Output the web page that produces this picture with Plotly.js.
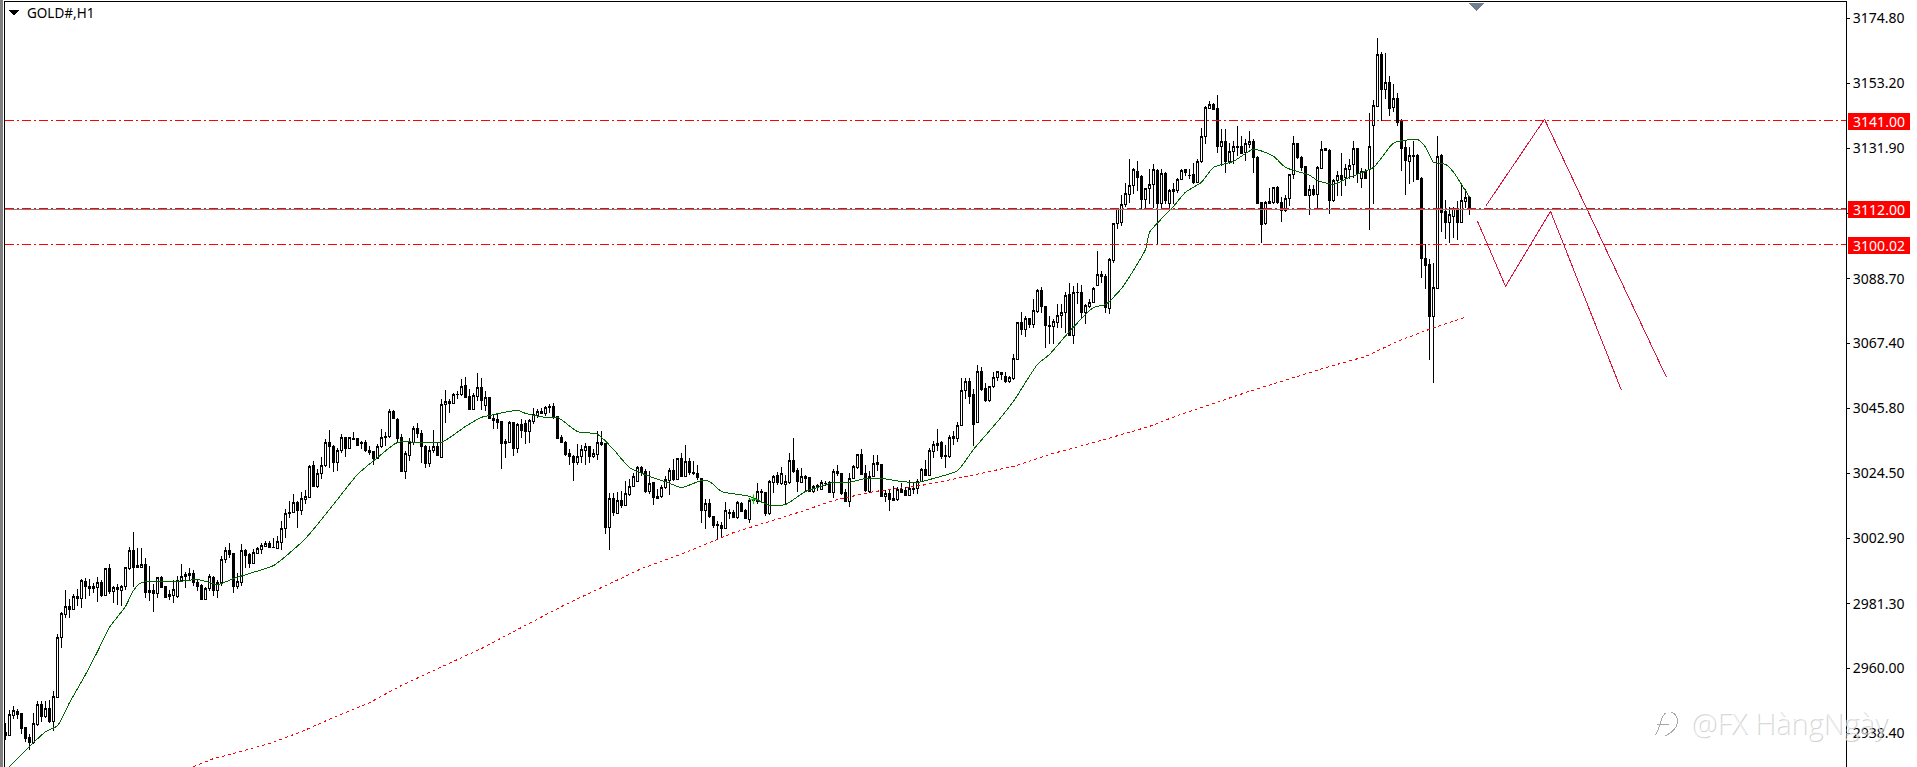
<!DOCTYPE html>
<html>
<head>
<meta charset="utf-8">
<script src="https://cdn.plot.ly/plotly-3.0.1.min.js"></script>
<style>
html,body{margin:0;padding:0;background:#fff}
#chart{width:1917px;height:767px}
/* the terminal draws without anti-aliasing */
#chart .shapelayer path, #chart .scatterlayer .js-line, #chart .boxlayer path, #chart .xlines-above, #chart .ylines-above {shape-rendering:crispEdges}
</style>
</head>
<body>
<div id="chart"></div>
<script>
const open = [
2938.8,2937.7,2944.5,2945.6,2945.0,2940.3,2937.1,2935.3,2941.5,2948.0,
2944.1,2946.6,2942.5,2950.3,2970.0,2977.9,2980.3,2979.4,2983.6,2983.1,
2988.5,2987.1,2986.9,2986.8,2988.2,2984.0,2993.0,2985.5,2986.6,2985.8,
2987.1,2993.0,2998.9,2994.0,2993.4,2994.3,2985.6,2985.6,2984.6,2990.0,
2987.1,2983.6,2984.1,2983.8,2989.0,2990.2,2991.3,2991.3,2988.2,2987.3,
2982.7,2986.2,2990.0,2985.8,2988.4,2995.8,2999.0,2997.9,2987.1,2988.4,
2998.9,2997.5,2994.7,2997.9,2999.2,3000.3,3001.2,3000.0,2999.7,3001.4,
3006.1,3011.0,3011.4,3014.7,3012.2,3015.9,3016.5,3026.9,3020.1,3024.2,
3027.0,3034.5,3033.4,3027.9,3031.9,3036.3,3032.6,3035.8,3035.8,3034.5,
3034.5,3031.8,3031.5,3029.3,3033.4,3036.4,3036.5,3044.9,3042.2,3036.2,
3025.1,3030.3,3034.7,3039.1,3037.4,3033.4,3027.7,3031.8,3033.2,3029.7,
3047.1,3048.2,3047.4,3050.4,3050.3,3053.5,3049.8,3045.5,3049.9,3052.9,
3046.8,3049.4,3042.5,3042.2,3041.5,3034.8,3034.7,3041.1,3032.7,3040.6,
3040.9,3038.3,3041.6,3043.5,3044.8,3044.3,3046.0,3046.6,3043.1,3036.2,
3034.7,3030.9,3030.1,3027.9,3029.8,3032.1,3033.2,3029.8,3030.6,3034.5,
3034.3,3006.6,3016.1,3011.1,3015.4,3013.9,3017.5,3020.2,3021.8,3026.2,
3024.9,3018.5,3021.3,3016.1,3016.8,3019.7,3022.1,3025.4,3022.4,3029.2,
3023.5,3028.4,3024.6,3024.4,3022.7,3012.2,3014.3,3010.0,3007.5,3007.0,
3006.1,3011.4,3011.4,3009.9,3014.4,3012.1,3009.2,3015.8,3015.2,3018.5,
3018.0,3011.1,3021.5,3023.7,3021.1,3020.7,3021.3,3028.7,3025.2,3021.5,
3023.5,3023.0,3018.5,3019.6,3019.1,3020.9,3021.3,3018.2,3024.9,3024.4,
3017.9,3015.1,3022.8,3026.2,3030.6,3024.3,3018.5,3023.5,3027.9,3027.3,
3016.7,3017.8,3016.0,3015.8,3019.1,3018.6,3017.2,3019.5,3019.5,3021.8,
3025.7,3023.7,3031.7,3034.3,3034.5,3030.3,3030.0,3036.6,3036.0,3040.1,
3051.7,3054.7,3050.5,3041.1,3058.0,3052.3,3048.3,3053.0,3056.0,3057.7,
3056.5,3054.7,3055.7,3062.1,3074.2,3072.0,3075.5,3073.6,3077.8,3084.9,
3079.5,3073.2,3072.9,3074.4,3076.4,3077.5,3083.5,3069.8,3084.0,3084.1,
3077.5,3079.5,3080.8,3086.6,3090.0,3089.4,3079.0,3094.6,3107.0,3107.2,
3113.3,3116.6,3119.4,3124.1,3122.4,3115.0,3118.5,3119.8,3124.5,3113.6,
3123.5,3113.6,3118.2,3118.0,3121.6,3124.8,3122.9,3123.2,3120.5,3127.3,
3135.6,3145.1,3146.4,3144.9,3132.3,3133.9,3127.4,3130.6,3132.4,3132.4,
3130.4,3133.2,3134.2,3128.9,3113.8,3106.9,3114.2,3113.8,3118.8,3113.8,
3111.1,3115.3,3123.0,3133.4,3128.7,3125.7,3116.3,3118.2,3116.6,3125.3,
3131.7,3131.1,3114.4,3121.3,3122.7,3122.0,3124.9,3126.3,3131.7,3121.8,
3124.3,3124.9,3139.4,3145.7,3162.9,3151.3,3153.6,3145.4,3148.3,3140.7,
3132.2,3127.5,3129.5,3129.5,3121.9,3095.4,3093.5,3076.3,3085.5,3129.5,
3111.0,3107.3,3109.3,3112.0,3107.3,3114.3,3115.6];
const high = [
2941.9,2946.3,2947.4,2946.5,2945.2,2940.6,2938.1,2945.2,2949.1,2949.1,
2949.1,2949.6,2952.6,2971.3,2978.5,2985.7,2982.7,2984.6,2986.2,2989.5,
2989.9,2989.5,2988.2,2990.2,2989.0,2993.2,2994.3,2987.1,2987.7,2987.4,
2993.4,3000.0,3005.1,2999.8,2999.8,2996.4,2993.7,2987.7,2990.2,2990.4,
2987.3,2986.0,2989.0,2990.4,2994.3,2991.7,2993.2,2992.4,2989.3,2987.7,
2986.9,2991.0,2990.4,2989.3,2997.2,3000.0,3001.4,2998.1,2991.5,3000.9,
2999.4,2998.1,2999.4,3000.1,3001.4,3002.0,3002.0,3003.1,3003.6,3008.6,
3012.5,3015.2,3017.4,3015.2,3018.2,3018.9,3027.3,3028.4,3025.7,3029.9,
3035.8,3038.6,3033.6,3032.9,3037.3,3036.5,3036.5,3038.1,3036.2,3035.1,
3035.3,3033.4,3031.8,3034.0,3039.1,3038.0,3045.5,3045.2,3042.8,3037.3,
3031.8,3036.2,3040.2,3041.1,3038.6,3033.6,3033.4,3038.6,3034.5,3049.0,
3051.9,3049.0,3051.0,3051.6,3055.7,3056.3,3052.4,3050.8,3057.6,3056.0,
3051.6,3049.6,3043.9,3043.9,3041.7,3035.6,3041.7,3041.3,3041.1,3042.2,
3042.0,3042.2,3046.1,3045.5,3046.1,3046.6,3047.2,3047.7,3043.3,3037.0,
3035.1,3032.3,3030.3,3034.0,3033.6,3034.5,3033.4,3032.3,3038.4,3038.4,
3034.5,3017.8,3018.0,3018.2,3018.5,3021.8,3022.4,3024.6,3026.8,3026.8,
3025.7,3025.1,3021.5,3019.1,3020.7,3023.5,3026.2,3029.0,3029.5,3031.2,
3033.6,3029.5,3028.4,3027.3,3023.0,3016.0,3015.8,3010.3,3008.6,3008.3,
3014.9,3012.7,3012.2,3015.2,3014.9,3012.5,3016.3,3016.9,3021.3,3019.1,
3018.2,3022.2,3023.7,3024.8,3026.6,3024.0,3031.2,3036.2,3026.2,3026.2,
3023.7,3023.2,3020.7,3021.0,3022.2,3021.8,3021.8,3025.7,3027.0,3024.6,
3019.1,3024.4,3027.3,3030.9,3032.3,3027.3,3025.1,3030.6,3030.3,3027.6,
3018.9,3019.1,3020.2,3020.0,3021.3,3020.0,3022.2,3021.3,3022.4,3026.2,
3028.8,3032.9,3035.1,3038.9,3035.1,3033.6,3036.9,3038.4,3041.3,3056.0,
3056.0,3056.0,3052.4,3060.1,3059.6,3054.3,3053.4,3057.9,3058.2,3057.9,
3057.9,3056.5,3063.7,3074.4,3077.8,3076.4,3075.8,3082.1,3085.2,3086.1,
3079.7,3076.4,3075.3,3080.2,3080.2,3084.3,3087.4,3086.3,3087.4,3086.8,
3080.2,3081.9,3086.1,3097.9,3091.3,3090.2,3095.7,3107.2,3112.2,3116.3,
3120.2,3128.2,3125.4,3127.6,3122.9,3118.8,3124.9,3126.5,3125.1,3124.9,
3124.0,3118.2,3120.5,3122.1,3125.1,3124.9,3124.9,3127.1,3128.2,3138.6,
3145.8,3147.5,3146.9,3149.3,3138.1,3138.1,3133.7,3134.2,3139.2,3135.9,
3134.8,3137.5,3134.8,3129.3,3113.8,3114.4,3118.8,3119.1,3119.4,3115.8,
3116.3,3123.3,3135.9,3133.7,3129.3,3126.0,3119.6,3119.6,3126.0,3134.2,
3131.7,3131.5,3121.6,3124.3,3130.4,3126.5,3128.4,3134.2,3131.9,3125.4,
3124.9,3143.4,3147.7,3168.2,3163.6,3163.2,3155.6,3153.0,3150.0,3141.4,
3134.5,3132.2,3134.1,3129.8,3122.2,3100.1,3095.1,3093.8,3135.8,3129.8,
3114.6,3112.3,3112.3,3114.3,3120.2,3118.3,3115.6];
const low = [
2936.4,2937.5,2943.3,2943.3,2938.1,2935.5,2932.9,2934.8,2941.0,2942.1,
2943.6,2941.9,2939.2,2950.0,2966.6,2976.5,2976.5,2979.1,2980.5,2980.0,
2982.7,2983.8,2984.7,2981.8,2983.6,2983.8,2984.4,2981.6,2981.0,2980.7,
2986.0,2992.6,2986.8,2993.4,2993.2,2983.1,2982.1,2978.5,2983.1,2986.4,
2983.5,2982.5,2981.6,2983.1,2988.4,2986.6,2989.3,2987.1,2985.5,2982.7,
2982.4,2985.6,2984.0,2983.1,2987.3,2994.8,2996.5,2984.9,2986.2,2987.3,
2993.2,2993.2,2994.5,2997.6,2997.6,3000.1,2999.8,2999.6,2999.5,2999.2,
3003.0,3009.7,3011.4,3006.2,3010.6,3014.1,3016.3,3020.0,3019.6,3022.4,
3026.6,3026.2,3024.8,3025.1,3031.2,3029.8,3032.3,3035.3,3033.4,3032.6,
3031.5,3030.6,3027.3,3029.0,3032.9,3033.4,3036.2,3042.2,3034.7,3024.8,
3022.4,3028.4,3033.7,3036.2,3027.7,3026.1,3026.6,3031.2,3030.1,3029.4,
3040.9,3044.2,3047.2,3049.1,3049.9,3049.2,3045.3,3045.5,3048.3,3045.2,
3045.0,3042.2,3038.9,3038.9,3025.9,3029.3,3034.5,3030.1,3031.0,3036.2,
3034.0,3034.5,3040.6,3042.8,3044.2,3043.3,3044.4,3042.4,3035.8,3034.5,
3030.1,3027.3,3021.8,3027.3,3027.9,3027.3,3027.9,3029.6,3028.7,3033.4,
3004.2,2999.2,3010.3,3010.8,3013.0,3013.6,3016.9,3020.0,3021.5,3023.5,
3018.0,3017.6,3013.9,3015.8,3016.3,3019.3,3017.2,3021.8,3022.2,3023.3,
3023.2,3024.0,3023.7,3022.2,3008.0,3005.9,3009.7,3006.4,3002.8,3003.1,
3005.9,3009.2,3009.6,3009.2,3011.6,3009.2,3008.1,3014.7,3014.1,3014.7,
3010.3,3010.6,3018.0,3020.7,3020.7,3014.1,3021.0,3024.6,3018.2,3021.3,
3018.5,3018.2,3018.0,3018.5,3018.9,3020.2,3017.8,3016.3,3023.5,3017.2,
3014.9,3013.2,3022.6,3025.7,3023.7,3018.2,3018.0,3023.3,3025.1,3016.5,
3014.9,3012.1,3015.2,3015.2,3018.0,3016.9,3016.9,3017.6,3017.4,3021.6,
3023.5,3023.5,3029.5,3031.7,3029.2,3026.2,3029.5,3033.9,3034.7,3039.9,
3048.8,3047.2,3033.4,3040.9,3051.6,3047.9,3047.9,3052.7,3054.9,3055.2,
3054.3,3054.1,3055.4,3061.8,3070.0,3069.5,3072.5,3072.5,3077.5,3077.5,
3065.8,3067.3,3067.2,3072.3,3072.3,3070.7,3069.8,3067.3,3080.2,3075.8,
3073.6,3079.1,3080.6,3086.3,3087.4,3077.5,3076.9,3094.0,3105.0,3106.1,
3112.5,3113.6,3116.6,3117.7,3111.9,3111.9,3113.3,3112.2,3100.1,3112.2,
3113.3,3111.6,3113.3,3117.2,3121.3,3122.7,3121.6,3119.9,3120.2,3126.8,
3133.1,3144.9,3144.5,3130.4,3126.0,3123.8,3126.5,3126.5,3129.3,3129.8,
3127.6,3132.0,3123.8,3113.3,3100.6,3106.4,3113.3,3113.3,3113.5,3107.5,
3110.9,3112.7,3121.6,3128.2,3124.3,3116.1,3109.7,3116.1,3111.9,3125.1,
3130.8,3110.0,3114.2,3116.1,3116.1,3119.4,3121.6,3122.1,3120.5,3118.8,
3121.6,3104.8,3113.3,3145.4,3140.7,3148.0,3142.4,3143.7,3139.1,3124.2,
3116.3,3119.9,3120.6,3121.2,3088.8,3085.2,3061.7,3054.4,3085.2,3104.0,
3101.7,3100.4,3102.1,3101.4,3107.3,3112.0,3109.7];
const close = [
2937.7,2944.7,2946.0,2944.7,2940.2,2936.9,2935.3,2941.6,2948.0,2944.1,
2946.6,2942.5,2950.5,2970.0,2978.0,2980.3,2979.5,2983.6,2983.1,2989.0,
2987.1,2986.4,2986.4,2988.2,2984.0,2993.0,2985.5,2986.7,2985.9,2986.9,
2993.3,2998.9,2993.4,2993.4,2994.2,2985.1,2985.1,2984.8,2990.0,2986.7,
2983.5,2984.2,2986.0,2989.1,2990.2,2991.0,2990.7,2988.2,2987.1,2982.7,
2986.3,2990.2,2985.8,2988.4,2995.9,2999.0,2997.6,2987.1,2988.5,2998.9,
2997.4,2994.6,2998.1,2999.4,3000.6,3001.2,3000.0,2999.9,3001.8,3006.1,
3011.1,3011.6,3014.7,3012.2,3016.1,3016.7,3026.8,3020.2,3024.3,3027.1,
3034.5,3033.4,3027.9,3031.9,3036.3,3032.7,3036.2,3035.6,3033.7,3034.1,
3031.8,3031.2,3029.3,3033.4,3036.4,3036.6,3044.8,3042.4,3035.8,3025.0,
3031.0,3034.7,3039.1,3037.4,3033.4,3027.7,3031.9,3033.2,3030.3,3047.1,
3048.1,3047.4,3050.5,3050.6,3053.2,3049.6,3045.5,3050.1,3052.7,3048.3,
3049.4,3042.5,3042.0,3041.3,3034.3,3034.3,3041.1,3032.7,3040.6,3038.4,
3038.3,3041.9,3043.8,3044.8,3044.3,3046.1,3046.6,3042.8,3036.0,3034.7,
3030.6,3029.8,3028.1,3029.9,3032.3,3033.2,3029.8,3030.9,3034.5,3034.0,
3006.6,3016.1,3011.4,3015.4,3013.6,3017.6,3020.0,3023.3,3026.2,3024.8,
3018.5,3021.0,3016.3,3016.9,3019.8,3022.2,3025.4,3022.4,3029.2,3023.5,
3028.2,3024.6,3024.4,3023.0,3012.2,3014.3,3010.0,3007.2,3007.0,3006.3,
3012.2,3011.1,3009.7,3014.7,3011.9,3009.4,3015.4,3015.4,3018.5,3018.0,
3011.1,3021.7,3023.5,3021.3,3024.4,3021.8,3028.7,3025.1,3021.6,3023.3,
3022.8,3018.5,3020.0,3020.4,3021.3,3021.1,3018.0,3024.9,3024.3,3017.6,
3015.2,3022.8,3026.6,3030.6,3024.0,3018.8,3023.5,3027.7,3027.2,3016.9,
3017.8,3015.8,3015.5,3019.1,3018.2,3017.2,3019.3,3018.9,3021.8,3025.7,
3023.7,3032.0,3034.0,3033.7,3029.8,3029.8,3036.2,3036.0,3040.2,3051.7,
3054.7,3049.9,3040.6,3058.0,3052.1,3048.5,3053.1,3056.0,3057.9,3057.1,
3054.7,3056.0,3062.4,3074.2,3072.0,3075.5,3073.6,3078.3,3084.9,3079.4,
3073.1,3073.0,3074.5,3076.6,3077.5,3083.2,3070.1,3084.1,3084.1,3077.5,
3079.7,3080.8,3085.5,3090.0,3089.4,3079.1,3095.1,3107.0,3111.9,3113.4,
3116.8,3119.4,3124.9,3122.3,3115.0,3118.5,3119.8,3124.9,3113.6,3123.5,
3114.7,3117.8,3117.7,3121.6,3124.5,3123.8,3122.7,3120.5,3127.6,3135.7,
3145.3,3146.3,3144.7,3132.3,3134.0,3127.4,3130.7,3132.4,3132.2,3130.2,
3133.5,3134.0,3128.7,3113.6,3106.7,3113.8,3113.5,3118.8,3113.8,3111.1,
3115.3,3123.1,3133.4,3128.7,3125.6,3116.3,3118.2,3116.6,3125.4,3131.3,
3131.0,3114.4,3121.3,3122.7,3121.6,3125.1,3126.0,3131.7,3123.5,3124.0,
3121.8,3132.4,3146.0,3162.9,3151.3,3153.6,3145.0,3148.3,3140.4,3131.8,
3127.8,3129.5,3129.2,3121.6,3095.4,3093.1,3076.3,3085.9,3129.2,3110.7,
3107.3,3110.0,3112.0,3107.3,3114.6,3115.6,3112.0];

// moving averages, bar number and price
const fastBars = [1,4,7,10,13,16,20,23,26,30,32,34,38,43,48,51,53,57,61,67,72,75,78,83,88,93,98,104,109,115,119,121,128,130,135,138,143,148,152,156,161,166,169,174,176,179,186,191,195,200,204,207,211,215,219,224,228,232,238,242,248,252,258,261,266,272,275,279,285,286,292,295,299,302,307,312,317,320,326,328,332,336,342,347,352,353,355,357,360,362,366];
const fastMa = [2927.5,2931.4,2935.4,2939.0,2941.0,2948.6,2957.9,2965.5,2973.5,2980.4,2985.7,2988.3,2988.6,2988.6,2989.3,2988.3,2987.6,2989.6,2991.3,2993.9,2999.2,3002.9,3007.5,3015.8,3024.0,3029.6,3034.6,3034.6,3034.6,3039.9,3042.9,3043.5,3045.2,3044.2,3042.9,3042.9,3038.2,3037.3,3032.3,3026.3,3023.4,3021.1,3019.7,3022.0,3021.7,3018.4,3016.8,3013.8,3014.1,3018.4,3020.1,3021.4,3021.4,3022.7,3022.7,3021.7,3021.4,3022.7,3025.3,3032.3,3041.5,3048.2,3060.4,3063.7,3071.3,3079.2,3080.2,3085.5,3098.4,3104.0,3112.6,3117.3,3120.6,3125.5,3127.5,3131.5,3129.2,3125.5,3122.9,3121.2,3119.9,3122.2,3125.5,3133.5,3134.8,3134.8,3132.2,3127.2,3126.5,3123.9,3115.6];
const slowBars = [47,52,57,66,74,82,91,99,107,119,139,159,170,178,182,191,199,207,216,219,229,239,252,262,273,286,293,311,331,340,348,356,365];
const slowMa = [2927.5,2930.1,2931.8,2935.1,2939.0,2943.7,2948.6,2954.3,2959.2,2966.5,2980.4,2992.9,2998.2,3002.5,3004.8,3008.5,3011.8,3015.4,3018.1,3018.7,3020.4,3023.0,3026.7,3031.0,3034.9,3039.9,3043.5,3051.5,3059.7,3063.0,3068.0,3072.0,3076.0];

// hand drawn scenario lines
const upPathBars = [370,384.75,415.25];
const upPathPrices = [3112.6,3141.4,3056.1];
const downPathBars = [368,375,386.25,404];
const downPathPrices = [3107.7,3086.2,3111.0,3051.8];

const levels = [3141.00,3112.00,3100.02];
const levelLabels = ['3141.00','3112.00','3100.02'];
const bidPrice = 3111.7;
const tickPrices = [3174.80,3153.20,3131.90,3110.30,3088.70,3067.40,3045.80,3024.50,3002.90,2981.30,2960.00,2938.40];
const tickLabels = ['3174.80','3153.20','3131.90','','3088.70','3067.40','3045.80','3024.50','3002.90','2981.30','2960.00','2938.40'];

const W = 1917, H = 767, L = 5, R = 1846, T = 2;
const px = x => (x - L) / (R - L);
const py = y => 1 - (y - T) / (H - T);
const font = 'Noto Sans, sans-serif';

const data = [
  {
    type: 'candlestick',
    x: open.map((v, i) => i),
    open: open, high: high, low: low, close: close,
    increasing: { line: { color: '#000', width: 1 }, fillcolor: '#fff' },
    decreasing: { line: { color: '#000', width: 1 }, fillcolor: '#000' },
    whiskerwidth: 0,
    hoverinfo: 'skip',
  },
  { type: 'scatter', mode: 'lines', x: fastBars, y: fastMa, line: { color: '#006400', width: 1, shape: 'spline', smoothing: 0.6 }, hoverinfo: 'skip' },
  { type: 'scatter', mode: 'lines', x: slowBars, y: slowMa, line: { color: '#ff0000', width: 1, dash: '3px,3px' }, hoverinfo: 'skip' },
  { type: 'scatter', mode: 'lines', x: upPathBars, y: upPathPrices, line: { color: '#dc143c', width: 1 }, hoverinfo: 'skip' },
  { type: 'scatter', mode: 'lines', x: downPathBars, y: downPathPrices, line: { color: '#dc143c', width: 1 }, hoverinfo: 'skip' },
  { type: 'scatter', mode: 'markers', x: [187], y: [3015.8], marker: { symbol: 'cross-thin', size: 7, line: { color: '#00d000', width: 1 } }, hoverinfo: 'skip' },
];

const shapes = [
  // window frame on the left
  { type: 'rect', xref: 'paper', yref: 'paper', x0: px(0), x1: px(3), y0: 0, y1: py(0), fillcolor: '#808080', line: { width: 0 } },
  { type: 'line', xref: 'paper', yref: 'y', x0: 0, x1: 1, y0: bidPrice, y1: bidPrice, line: { color: '#808080', width: 1 } },
  { type: 'line', xref: 'paper', yref: 'paper', x0: px(1848), x1: px(1910), y0: py(201.5), y1: py(201.5), line: { color: '#000', width: 1 } },
  // chart shift marker
  { type: 'path', xref: 'paper', yref: 'paper', path: `M${px(1469)},${py(3)} L${px(1484)},${py(3)} L${px(1476.5)},${py(11)} Z`, fillcolor: '#708090', line: { width: 0 } },
  // title triangle
  { type: 'path', xref: 'paper', yref: 'paper', path: `M${px(8)},${py(10)} L${px(19)},${py(10)} L${px(13.5)},${py(15.5)} Z`, fillcolor: '#000', line: { width: 0 } },
  // watermark logo
  { type: 'path', xref: 'paper', yref: 'paper', path: `M${px(1671)},${py(712)} C${px(1681)},${py(716)} ${px(1680)},${py(729)} ${px(1665)},${py(736)} M${px(1666)},${py(713)} C${px(1660)},${py(715)} ${px(1661)},${py(729)} ${px(1655)},${py(735)} M${px(1657)},${py(725)} L${px(1669)},${py(724)}`, line: { color: '#a8a8a8', width: 1 } },
];
levels.forEach(v => {
  shapes.push({ type: 'line', xref: 'paper', yref: 'y', x0: 0, x1: 1, y0: v, y1: v, line: { color: '#ff0000', width: 1, dash: '9px,3px,2px,3px' } });
});

const annotations = levels.map((v, i) => ({
  xref: 'paper', yref: 'y', x: px(1848), y: v, yshift: -1.5,
  xanchor: 'left', yanchor: 'middle', showarrow: false,
  text: levelLabels[i], width: 62, height: 17, align: 'center',
  bgcolor: '#ff0000', borderpad: 0, borderwidth: 0,
  font: { family: font, size: 14, color: '#fff' },
}));
annotations.push({
  xref: 'paper', yref: 'paper', x: px(24.5), y: py(13.5), xanchor: 'left', yanchor: 'middle', showarrow: false,
  text: 'GOLD#,H1', font: { family: font, size: 13.5, color: '#000' },
});
annotations.push({
  xref: 'paper', yref: 'paper', x: px(1689), y: py(722), xanchor: 'left', yanchor: 'middle', showarrow: false,
  text: '@FX HàngNgày', font: { family: 'Open Sans, sans-serif', size: 29, weight: 300, color: 'rgba(255,255,255,0.6)', shadow: '1px 1px 0 #b4b4b4' },
});

const layout = {
  width: W, height: H,
  margin: { l: L, r: W - R, t: T, b: 0, pad: 0 },
  paper_bgcolor: '#fff', plot_bgcolor: '#fff',
  showlegend: false,
  boxgap: 0.2857,
  xaxis: {
    type: 'linear', range: [-0.125, (R - L) / 4 - 0.125], side: 'top',
    showgrid: false, zeroline: false, showticklabels: false, ticks: '',
    showline: true, linecolor: '#000', linewidth: 1,
    rangeslider: { visible: false },
  },
  yaxis: {
    side: 'right', range: [2927.34, 3180.16],
    showgrid: false, zeroline: false,
    showline: true, mirror: true, linecolor: '#000', linewidth: 1,
    tickmode: 'array', tickvals: tickPrices, ticktext: tickLabels,
    ticks: 'outside', ticklen: 3, tickcolor: '#000', tickwidth: 1,
    tickfont: { family: font, size: 14, color: '#000' },
  },
  shapes: shapes,
  annotations: annotations,
};

Plotly.newPlot('chart', data, layout, { displayModeBar: false, responsive: false });
</script>
</body>
</html>
